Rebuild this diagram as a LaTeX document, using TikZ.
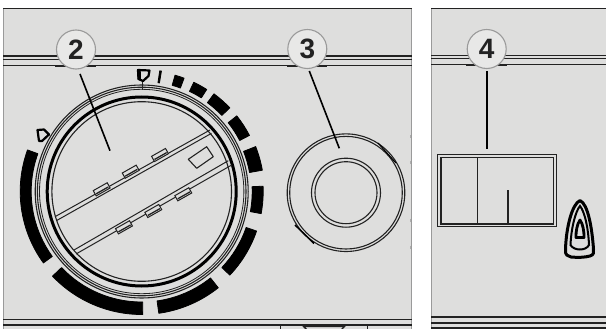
\documentclass[tikz,border=0pt]{standalone}
\usepackage{fontspec}
\usetikzlibrary{calc}
\setmainfont{Liberation Sans}
\definecolor{panel}{HTML}{DEDEDD}
\definecolor{edge}{HTML}{9A9A9A}
\definecolor{ink}{HTML}{222222}
\definecolor{badge}{HTML}{E8E8E7}
\tikzset{
  hline/.style={draw=ink,line width=1.2pt},
  badgeNode/.style={circle,draw=edge,line width=1.1pt,fill=badge,minimum size=39pt,inner sep=0pt,text=ink,font=\fontsize{28}{28}\selectfont\bfseries},
  pointer/.style={draw=black,line width=1.6pt},
  ringline/.style={draw=ink,line width=1.1pt},
  barline/.style={draw=ink,line width=1pt},
  tabbox/.style={draw=ink,line width=1pt,fill=panel},
  symbol/.style={draw=black,line width=2.2pt,fill=panel,line join=round}
}
\newcommand{\scaleseg}[4]{\filldraw[black,line width=0.8pt,line join=round] (#1:#3) arc[start angle=#1,end angle=#2,radius=#3] -- (#2:#4) arc[start angle=#2,end angle=#1,radius=#4] -- cycle;}
\newcommand{\tabat}[2]{\draw[tabbox,shift={(#1,#2)},rotate=29.5] (-8,-3) rectangle (8,3); \draw[ink,line width=1.3pt,shift={(#1,#2)},rotate=29.5] (-7,1.2) -- (7,1.2);}
\begin{document}
\begin{tikzpicture}[x=1pt,y=-1pt]
\useasboundingbox (0,0) rectangle (606,329);
\fill[white] (0,0) rectangle (606,329);
% panels
\fill[panel] (3,8) rectangle (412,329);
\fill[panel] (431,8) rectangle (606,329);
\draw[edge,line width=1.2pt] (3.4,8) -- (3.4,329);
\draw[edge,line width=1.2pt] (411.5,8) -- (411.5,329);
\draw[edge,line width=1.2pt] (431.8,8) -- (431.8,329);
% horizontal lines, left panel
\draw[hline,line width=1.4pt] (3,8.6) -- (412,8.6);
\draw[hline,line width=1.4pt] (3,56) -- (412,56);
\draw[hline] (3,59.2) -- (412,59.2);
\draw[hline] (3,65.5) -- (412,65.5);
\draw[hline] (3,319.3) -- (412,319.3);
\draw[hline,line width=1.5pt] (3,325) -- (412,325);
% horizontal lines, right panel
\draw[hline] (431,8.4) -- (606,8.4);
\draw[hline,line width=1.4pt] (431,55.5) -- (606,55.5);
\draw[hline] (431,58.7) -- (606,58.7);
\draw[hline] (431,64.5) -- (606,64.5);
\draw[hline] (431,317) -- (606,317);
\draw[hline] (431,323) -- (606,323);
\fill[ink] (431,327.3) rectangle (606,329);
% bottom piece
\draw[ink,line width=0.9pt] (280,325) -- (280,329);
\draw[ink,line width=0.9pt] (367.3,325) -- (367.3,329);
\fill[ink] (301,324.6) -- (347,324.6) -- (343,329) -- (341,329) -- (343,327) -- (305,327) -- (307,329) -- (305,329) -- cycle;
% panel edge specks
\foreach \yy in {137,162,220,247} \draw[edge!70!panel,line width=0.5pt] (410,\yy-1.5) -- (410,\yy+1.5);
% dial
\begin{scope}[shift={(141.7,191.5)},y=1pt]
  \fill[panel] (0,0) circle[radius=107];
  \draw[ringline] (0,0) circle[radius=106.5];
  \draw[ringline] (0,0) circle[radius=104.3];
  \draw[ringline,line width=0.8pt] (0,0) circle[radius=102.2];
  \draw[black,line width=3pt] (0,0) circle[radius=94.5];
  \draw[ringline] (0,0) circle[radius=89.8];
  \scaleseg{160}{216}{110.5}{121.5}
  \scaleseg{223.5}{270.5}{110.5}{123}
  \scaleseg{278}{308.5}{110.5}{123}
  \scaleseg{316.5}{341}{110.5}{121.5}
  \scaleseg{349.5}{362.5}{110.5}{121.5}
  \scaleseg{10}{21.5}{109.5}{122.5}
  \scaleseg{27.5}{38.5}{110.5}{121.5}
  \scaleseg{43.5}{53.5}{110.5}{121.5}
  \scaleseg{57.5}{64.5}{111}{121}
  \scaleseg{69.5}{74}{110.5}{121}
  \scaleseg{80.7}{81.5}{110}{122}
\end{scope}
\draw[ink,line width=0.8pt] (142,82) -- (142,90);
% bars
\draw[barline] (55,216.7) -- (210,130);
\draw[barline] (56.7,220.5) -- (211.5,133.3);
\draw[barline] (74,250) -- (228.3,160.7);
\draw[barline] (76,254) -- (231.7,165);
\tabat{101.7}{189.3}
\tabat{130.7}{171.7}
\tabat{160}{155}
\tabat{124}{227.3}
\tabat{153.3}{211}
\tabat{183.3}{194.3}
\draw[ink,line width=1.1pt,line join=round] (188.3,159.3) -- (206.7,146.7) -- (213.3,156.7) -- (196.7,168.3) -- cycle;
% dial symbols
\draw[symbol] (138,70) -- (149.5,70.5) -- (148.5,76) -- (143,81) -- (138.5,79) -- cycle;
\draw[black,line width=3.4pt] (139,70) -- (139.3,79.5);
\draw[symbol] (37.5,130) -- (44,129.5) -- (49,134.5) -- (42,141) -- (39,141) -- cycle;
% knob 3
\draw[ringline] (346,192.7) circle[radius=58.8];
\draw[ringline] (346,192.7) circle[radius=56.3];
\draw[ringline] (346,192.7) circle[radius=34.5];
\draw[ringline] (346,192.7) circle[radius=31];
\draw[black,line width=1.5pt] (295,225) -- (314,243.5);
\draw[black,line width=1.1pt] (378,143) -- (396,163);
% switch 4
\draw[ink,line width=1.4pt] (437.5,154.3) rectangle (556.5,226.5);
\draw[ink,line width=1.4pt] (441,157.5) rectangle (553.3,224);
\draw[ink,line width=1.2pt] (477.7,157.5) -- (477.7,224);
\draw[ink,line width=1.1pt] (508,190) -- (508,224);
% iron symbol
\draw[black,line width=3pt,line join=round] (580,200.5) .. controls (572,204) and (566,228) .. (565.5,250) .. controls (565,255) and (568,256.5) .. (571,257) .. controls (577,257.6) and (585,257.5) .. (590,256) .. controls (594,255) and (594,252) .. (593.5,249) .. controls (592,228) and (588,204) .. (580,200.5) -- cycle;
\draw[black,line width=2pt] (580,206) .. controls (575,212) and (571,230) .. (570.5,245) .. controls (574,251) and (586,251) .. (589,245) .. controls (588.5,230) and (585,212) .. (580,206) -- cycle;
\draw[black,line width=2.8pt,line join=round] (580,220) .. controls (577,224) and (575.8,232) .. (576,237.5) -- (584,237.5) .. controls (584.2,232) and (583,224) .. (580,220) -- cycle;
% badge underlines
\draw[ink,line width=1.6pt] (55,66) -- (96,66);
\draw[ink,line width=1.6pt] (287,66) -- (327,66);
\draw[ink,line width=1.6pt] (466,65.5) -- (507,65.5);
% badges
\node[badgeNode] (b2) at (76,49.5) {2};
\node[badgeNode] (b3) at (307.3,49) {3};
\node[badgeNode] (b4) at (486.7,49) {4};
\coordinate (s2) at ($(b2)+(4,24.5)$);
\coordinate (s3) at ($(b3)+(2,22)$);
\coordinate (s4) at ($(b4)+(0,22.5)$);
\coordinate (t2) at (110,150.7);
\coordinate (t3) at (339.3,148.3);
\coordinate (t4) at (486.7,149);
\draw[pointer] (s2) -- (t2);
\draw[pointer] (s3) -- (t3);
\draw[pointer] (s4) -- (t4);
\end{tikzpicture}
\end{document}
